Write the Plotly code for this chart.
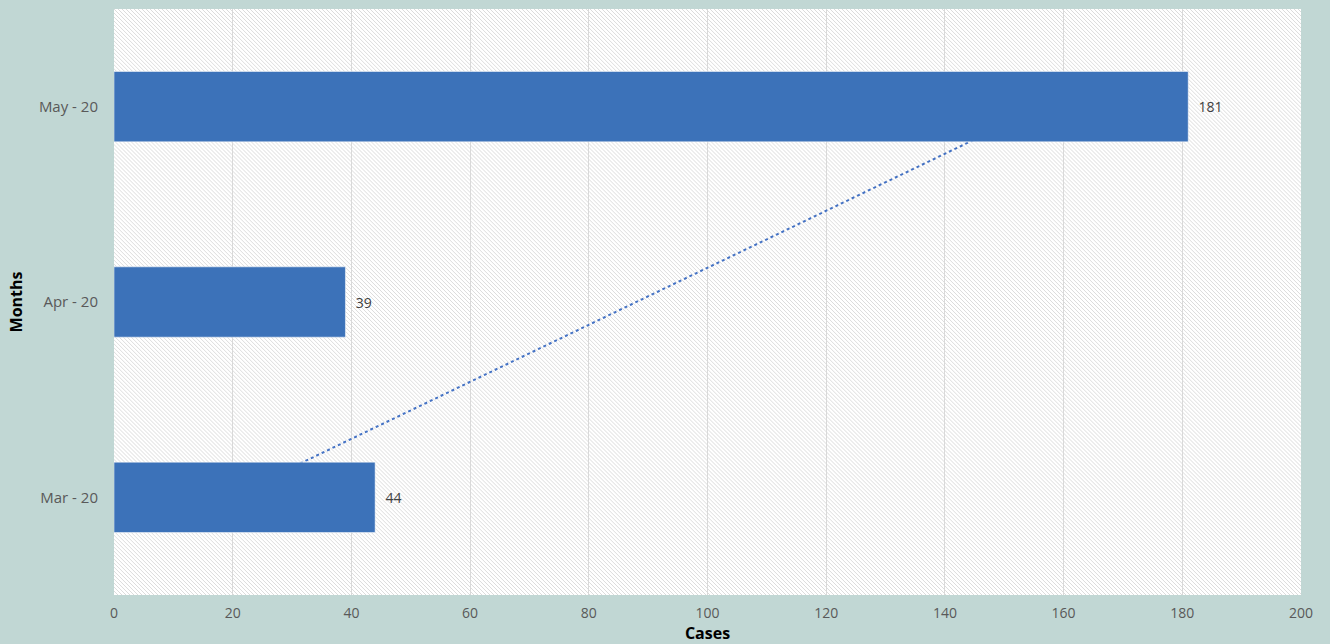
import base64
import numpy as np
import plotly.graph_objects as go

months = ["Mar - 20", "Apr - 20", "May - 20"]
cases = [44, 39, 181]
x_ticks = [0, 20, 40, 60, 80, 100, 120, 140, 160, 180, 200]

# linear trendline (like Excel's) computed from the data
idx = np.arange(len(cases))
slope, intercept = np.polyfit(idx, cases, 1)
trend = (slope * idx + intercept).tolist()

# hatched plot-area background as an SVG pattern image
W, H = 1187, 588
svg = f'''<svg xmlns="http://www.w3.org/2000/svg" width="{W}" height="{H}" viewBox="0 0 {W} {H}" preserveAspectRatio="none">
<defs><pattern id="p" width="4" height="4" patternUnits="userSpaceOnUse">
<rect width="4" height="4" fill="#ffffff"/>
<path d="M-1,-1 L5,5 M-1,3 L1,5 M3,-1 L5,1" stroke="#dcdcdc" stroke-width="1"/>
</pattern></defs>
<rect width="{W}" height="{H}" fill="url(#p)"/></svg>'''
bg_src = "data:image/svg+xml;base64," + base64.b64encode(svg.encode()).decode()

FONT = "Open Sans"
fig = go.Figure()

fig.add_trace(go.Scatter(
    x=trend, y=months, mode="lines", xaxis="x", yaxis="y",
    line=dict(color="#4472c4", width=2, dash="dot"),
    hoverinfo="skip", showlegend=False,
))

fig.add_trace(go.Bar(
    x=cases, y=months, orientation="h", xaxis="x2", yaxis="y2",
    marker=dict(color="#3c72b9", line=dict(color="rgba(255,255,255,0.5)", width=1)),
    width=0.36,
    text=["\u00a0\u00a0" + str(v) for v in cases], textposition="outside",
    textfont=dict(family=FONT, size=14, color="#404040"),
    cliponaxis=False, showlegend=False,
))

fig.update_layout(
    width=1330, height=644,
    margin=dict(l=114, r=29, t=9, b=47),
    paper_bgcolor="#c1d7d4",
    plot_bgcolor="rgba(0,0,0,0)",
    font=dict(family=FONT, size=14, color="#595959"),
    images=[dict(source=bg_src, xref="paper", yref="paper", x=0, y=1,
                 sizex=1, sizey=1, xanchor="left", yanchor="top",
                 sizing="stretch", layer="below")],
    xaxis=dict(
        range=[0, 200], tickvals=x_ticks, ticktext=[str(t) for t in x_ticks],
        showgrid=True, gridcolor="#d9d9d9", gridwidth=1.3, zeroline=False,
        showline=False, ticks="outside", ticklen=5, tickcolor="rgba(0,0,0,0)",
        tickfont=dict(family=FONT, size=14, color="#595959"),
        title=dict(text="<b>Cases</b>", standoff=2,
                   font=dict(family=FONT, size=16, color="#000000")),
    ),
    yaxis=dict(
        type="category", categoryorder="array", categoryarray=months,
        range=[-0.5, 2.5], showgrid=False, zeroline=False, showline=False,
        ticks="outside", ticklen=12, tickcolor="rgba(0,0,0,0)",
        tickfont=dict(family=FONT, size=15, color="#595959"),
        title=dict(text="<b>Months</b>", standoff=12,
                   font=dict(family=FONT, size=16, color="#000000")),
    ),
    xaxis2=dict(overlaying="x", range=[0, 200], visible=False),
    yaxis2=dict(overlaying="y", type="category", categoryorder="array",
                categoryarray=months, range=[-0.5, 2.5], visible=False),
)

fig.write_html("out.html")
